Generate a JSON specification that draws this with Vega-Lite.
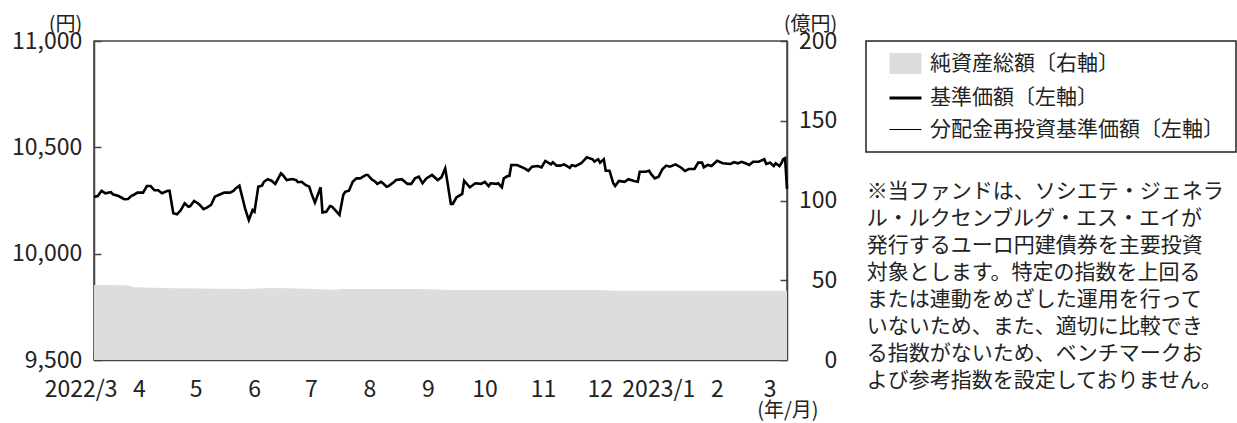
{
"$schema": "https://vega.github.io/schema/vega-lite/v6.json",
"width": 693, "height": 319,
"autosize": "none",
"padding": {"left": 94, "top": 41, "right": 450, "bottom": 63},
"background": "white",
"title": {
  "text": ["※当ファンドは、ソシエテ・ジェネラ", "　ル・ルクセンブルグ・エス・エイが", "　発行するユーロ円建債券を主要投資", "　対象とします。特定の指数を上回る", "　または連動をめざした運用を行って", "　いないため、また、適切に比較でき", "　る指数がないため、ベンチマークお", "　よび参考指数を設定しておりません。"],
  "anchor": "start", "frame": "group", "orient": "top", "offset": 0, "dx": 772.7, "dy": 376,
  "font": "Noto Sans CJK JP", "fontSize": 21, "fontWeight": "normal", "lineHeight": 27, "color": "#222222", "baseline": "top", "align": "left"
},
"datasets": {
  "nav": [
    {"date":"2022-03-23","total":47.0},{"date":"2022-04-10","total":46.8},{"date":"2022-04-13","total":45.6},{"date":"2022-05-04","total":45.0},{"date":"2022-06-12","total":44.5},{"date":"2022-06-23","total":45.1},{"date":"2022-07-05","total":45.0},{"date":"2022-07-28","total":44.1},{"date":"2022-08-02","total":44.5},{"date":"2022-09-12","total":44.5},{"date":"2022-09-28","total":43.9},{"date":"2022-12-16","total":43.9},{"date":"2022-12-23","total":43.4},{"date":"2023-03-25","total":43.4}
  ],
  "price": [
    {"date":"2022-03-23","price":10267,"reinvest":10267},{"date":"2022-03-25","price":10271,"reinvest":10271},{"date":"2022-03-27","price":10296,"reinvest":10296},{"date":"2022-03-29","price":10284,"reinvest":10284},{"date":"2022-04-01","price":10289,"reinvest":10289},{"date":"2022-04-02","price":10279,"reinvest":10279},{"date":"2022-04-05","price":10271,"reinvest":10271},{"date":"2022-04-08","price":10256,"reinvest":10256},{"date":"2022-04-10","price":10257,"reinvest":10257},{"date":"2022-04-12","price":10273,"reinvest":10273},{"date":"2022-04-13","price":10276,"reinvest":10276},{"date":"2022-04-15","price":10287,"reinvest":10287},{"date":"2022-04-18","price":10287,"reinvest":10287},{"date":"2022-04-20","price":10318,"reinvest":10318},{"date":"2022-04-22","price":10318,"reinvest":10318},{"date":"2022-04-24","price":10298,"reinvest":10298},{"date":"2022-04-26","price":10298,"reinvest":10298},{"date":"2022-04-28","price":10284,"reinvest":10284},
    {"date":"2022-05-01","price":10296,"reinvest":10296},{"date":"2022-05-02","price":10296,"reinvest":10296},{"date":"2022-05-04","price":10190,"reinvest":10190},{"date":"2022-05-06","price":10185,"reinvest":10185},{"date":"2022-05-08","price":10205,"reinvest":10205},{"date":"2022-05-10","price":10237,"reinvest":10237},{"date":"2022-05-12","price":10221,"reinvest":10221},{"date":"2022-05-13","price":10224,"reinvest":10224},{"date":"2022-05-15","price":10248,"reinvest":10248},{"date":"2022-05-17","price":10237,"reinvest":10237},{"date":"2022-05-18","price":10229,"reinvest":10229},{"date":"2022-05-20","price":10209,"reinvest":10209},{"date":"2022-05-22","price":10218,"reinvest":10218},{"date":"2022-05-24","price":10229,"reinvest":10229},{"date":"2022-05-26","price":10268,"reinvest":10268},{"date":"2022-05-28","price":10276,"reinvest":10276},{"date":"2022-05-31","price":10287,"reinvest":10287},
    {"date":"2022-06-03","price":10287,"reinvest":10287},{"date":"2022-06-05","price":10296,"reinvest":10296},{"date":"2022-06-06","price":10307,"reinvest":10307},{"date":"2022-06-08","price":10320,"reinvest":10320},{"date":"2022-06-09","price":10284,"reinvest":10284},{"date":"2022-06-11","price":10213,"reinvest":10213},{"date":"2022-06-13","price":10158,"reinvest":10158},{"date":"2022-06-15","price":10205,"reinvest":10205},{"date":"2022-06-16","price":10197,"reinvest":10197},{"date":"2022-06-18","price":10315,"reinvest":10315},{"date":"2022-06-20","price":10320,"reinvest":10320},{"date":"2022-06-21","price":10338,"reinvest":10338},{"date":"2022-06-23","price":10350,"reinvest":10350},{"date":"2022-06-25","price":10343,"reinvest":10343},{"date":"2022-06-27","price":10328,"reinvest":10328},{"date":"2022-06-30","price":10378,"reinvest":10378},
    {"date":"2022-07-01","price":10370,"reinvest":10370},{"date":"2022-07-03","price":10346,"reinvest":10346},{"date":"2022-07-06","price":10351,"reinvest":10351},{"date":"2022-07-08","price":10346,"reinvest":10346},{"date":"2022-07-09","price":10336,"reinvest":10336},{"date":"2022-07-11","price":10338,"reinvest":10338},{"date":"2022-07-13","price":10323,"reinvest":10323},{"date":"2022-07-15","price":10315,"reinvest":10315},{"date":"2022-07-16","price":10287,"reinvest":10287},{"date":"2022-07-18","price":10240,"reinvest":10240},{"date":"2022-07-21","price":10312,"reinvest":10312},{"date":"2022-07-22","price":10194,"reinvest":10194},{"date":"2022-07-24","price":10197,"reinvest":10197},{"date":"2022-07-26","price":10224,"reinvest":10224},{"date":"2022-07-27","price":10221,"reinvest":10221},{"date":"2022-07-29","price":10202,"reinvest":10202},{"date":"2022-07-31","price":10182,"reinvest":10182},
    {"date":"2022-08-02","price":10276,"reinvest":10276},{"date":"2022-08-03","price":10291,"reinvest":10291},{"date":"2022-08-05","price":10296,"reinvest":10296},{"date":"2022-08-07","price":10338,"reinvest":10338},{"date":"2022-08-09","price":10354,"reinvest":10354},{"date":"2022-08-11","price":10354,"reinvest":10354},{"date":"2022-08-14","price":10370,"reinvest":10370},{"date":"2022-08-15","price":10370,"reinvest":10370},{"date":"2022-08-17","price":10350,"reinvest":10350},{"date":"2022-08-19","price":10338,"reinvest":10338},{"date":"2022-08-20","price":10328,"reinvest":10328},{"date":"2022-08-22","price":10338,"reinvest":10338},{"date":"2022-08-23","price":10331,"reinvest":10331},{"date":"2022-08-25","price":10315,"reinvest":10315},{"date":"2022-08-26","price":10318,"reinvest":10318},{"date":"2022-08-29","price":10338,"reinvest":10338},{"date":"2022-08-30","price":10346,"reinvest":10346},
    {"date":"2022-09-02","price":10350,"reinvest":10350},{"date":"2022-09-05","price":10328,"reinvest":10328},{"date":"2022-09-07","price":10328,"reinvest":10328},{"date":"2022-09-09","price":10354,"reinvest":10354},{"date":"2022-09-11","price":10362,"reinvest":10362},{"date":"2022-09-13","price":10331,"reinvest":10331},{"date":"2022-09-15","price":10354,"reinvest":10354},{"date":"2022-09-18","price":10370,"reinvest":10370},{"date":"2022-09-21","price":10346,"reinvest":10346},{"date":"2022-09-23","price":10359,"reinvest":10359},{"date":"2022-09-25","price":10401,"reinvest":10401},{"date":"2022-09-28","price":10234,"reinvest":10234},{"date":"2022-09-29","price":10234,"reinvest":10234},
    {"date":"2022-10-01","price":10265,"reinvest":10265},{"date":"2022-10-04","price":10281,"reinvest":10281},{"date":"2022-10-05","price":10343,"reinvest":10343},{"date":"2022-10-08","price":10312,"reinvest":10312},{"date":"2022-10-11","price":10331,"reinvest":10331},{"date":"2022-10-14","price":10328,"reinvest":10328},{"date":"2022-10-16","price":10338,"reinvest":10338},{"date":"2022-10-18","price":10318,"reinvest":10318},{"date":"2022-10-19","price":10331,"reinvest":10331},{"date":"2022-10-22","price":10328,"reinvest":10328},{"date":"2022-10-23","price":10331,"reinvest":10331},{"date":"2022-10-25","price":10312,"reinvest":10312},{"date":"2022-10-26","price":10354,"reinvest":10354},{"date":"2022-10-28","price":10365,"reinvest":10365},{"date":"2022-10-29","price":10365,"reinvest":10365},{"date":"2022-10-30","price":10417,"reinvest":10417},
    {"date":"2022-11-02","price":10417,"reinvest":10417},{"date":"2022-11-06","price":10401,"reinvest":10401},{"date":"2022-11-08","price":10390,"reinvest":10390},{"date":"2022-11-10","price":10409,"reinvest":10409},{"date":"2022-11-13","price":10412,"reinvest":10412},{"date":"2022-11-15","price":10406,"reinvest":10406},{"date":"2022-11-17","price":10436,"reinvest":10436},{"date":"2022-11-20","price":10420,"reinvest":10420},{"date":"2022-11-21","price":10430,"reinvest":10430},{"date":"2022-11-23","price":10414,"reinvest":10414},{"date":"2022-11-25","price":10414,"reinvest":10414},{"date":"2022-11-27","price":10420,"reinvest":10420},{"date":"2022-11-30","price":10404,"reinvest":10404},
    {"date":"2022-12-01","price":10416,"reinvest":10416},{"date":"2022-12-03","price":10412,"reinvest":10412},{"date":"2022-12-06","price":10425,"reinvest":10425},{"date":"2022-12-09","price":10453,"reinvest":10453},{"date":"2022-12-12","price":10444,"reinvest":10444},{"date":"2022-12-13","price":10433,"reinvest":10433},{"date":"2022-12-15","price":10444,"reinvest":10444},{"date":"2022-12-16","price":10428,"reinvest":10428},{"date":"2022-12-18","price":10444,"reinvest":10444},{"date":"2022-12-19","price":10390,"reinvest":10390},{"date":"2022-12-21","price":10390,"reinvest":10390},{"date":"2022-12-23","price":10331,"reinvest":10331},{"date":"2022-12-24","price":10318,"reinvest":10318},{"date":"2022-12-26","price":10342,"reinvest":10342},{"date":"2022-12-29","price":10338,"reinvest":10338},{"date":"2022-12-31","price":10350,"reinvest":10350},
    {"date":"2023-01-03","price":10342,"reinvest":10342},{"date":"2023-01-05","price":10338,"reinvest":10338},{"date":"2023-01-06","price":10385,"reinvest":10385},{"date":"2023-01-09","price":10385,"reinvest":10385},{"date":"2023-01-11","price":10390,"reinvest":10390},{"date":"2023-01-12","price":10375,"reinvest":10375},{"date":"2023-01-14","price":10354,"reinvest":10354},{"date":"2023-01-16","price":10362,"reinvest":10362},{"date":"2023-01-18","price":10397,"reinvest":10397},{"date":"2023-01-20","price":10414,"reinvest":10414},{"date":"2023-01-22","price":10409,"reinvest":10409},{"date":"2023-01-25","price":10420,"reinvest":10420},{"date":"2023-01-28","price":10404,"reinvest":10404},{"date":"2023-01-30","price":10389,"reinvest":10389},
    {"date":"2023-02-01","price":10398,"reinvest":10398},{"date":"2023-02-04","price":10398,"reinvest":10398},{"date":"2023-02-06","price":10428,"reinvest":10428},{"date":"2023-02-08","price":10428,"reinvest":10428},{"date":"2023-02-09","price":10406,"reinvest":10406},{"date":"2023-02-11","price":10417,"reinvest":10417},{"date":"2023-02-13","price":10412,"reinvest":10412},{"date":"2023-02-16","price":10437,"reinvest":10437},{"date":"2023-02-19","price":10425,"reinvest":10425},{"date":"2023-02-23","price":10422,"reinvest":10422},{"date":"2023-02-25","price":10430,"reinvest":10430},{"date":"2023-02-27","price":10425,"reinvest":10425},
    {"date":"2023-03-01","price":10432,"reinvest":10432},{"date":"2023-03-03","price":10425,"reinvest":10425},{"date":"2023-03-05","price":10417,"reinvest":10417},{"date":"2023-03-07","price":10432,"reinvest":10432},{"date":"2023-03-10","price":10432,"reinvest":10432},{"date":"2023-03-13","price":10444,"reinvest":10444},{"date":"2023-03-14","price":10422,"reinvest":10422},{"date":"2023-03-16","price":10428,"reinvest":10428},{"date":"2023-03-18","price":10412,"reinvest":10412},{"date":"2023-03-19","price":10425,"reinvest":10425},{"date":"2023-03-21","price":10412,"reinvest":10412},{"date":"2023-03-22","price":10425,"reinvest":10425},{"date":"2023-03-23","price":10444,"reinvest":10444},{"date":"2023-03-24","price":10449,"reinvest":10449},{"date":"2023-03-25","price":10305,"reinvest":10305}
  ]
},
"encoding": {
  "x": {
    "field": "date", "type": "temporal",
    "scale": {"type": "utc", "domain": [{"year": 2022, "month": 3, "date": 23, "utc": true}, {"year": 2023, "month": 3, "date": 25, "utc": true}]},
    "axis": {
      "values": [
        {"year": 2022, "month": 3, "date": 23, "utc": true},
        {"year": 2022, "month": 4, "date": 1, "utc": true},
        {"year": 2022, "month": 5, "date": 1, "utc": true},
        {"year": 2022, "month": 6, "date": 1, "utc": true},
        {"year": 2022, "month": 7, "date": 1, "utc": true},
        {"year": 2022, "month": 8, "date": 1, "utc": true},
        {"year": 2022, "month": 9, "date": 1, "utc": true},
        {"year": 2022, "month": 10, "date": 1, "utc": true},
        {"year": 2022, "month": 11, "date": 1, "utc": true},
        {"year": 2022, "month": 12, "date": 1, "utc": true},
        {"year": 2023, "month": 1, "date": 1, "utc": true},
        {"year": 2023, "month": 2, "date": 1, "utc": true},
        {"year": 2023, "month": 3, "date": 1, "utc": true}
      ],
      "labelExpr": "(utcmonth(datum.value) == 0 || datum.value < utc(2022,3,1)) ? utcFormat(datum.value, '%Y/%-m') : utcFormat(datum.value, '%-m')",
      "labelAlign": {"condition": {"test": "datum.value < utc(2022,3,1)", "value": "right"}, "value": "center"},
      "labelOffset": {"condition": {"test": "datum.value < utc(2022,3,1)", "value": 23}, "value": 28},
      "labelFlush": false, "labelOverlap": false, "labelBound": false,
      "labelPadding": 25.5,
      "title": "(年/月)", "titleAlign": "right", "titleBaseline": "middle", "titleX": 724, "titleY": 50
    }
  }
},
"layer": [
  {
    "data": {"name": "nav"},
    "mark": {"type": "area", "opacity": 1, "interpolate": "linear"},
    "encoding": {
      "y": {"field": "total", "type": "quantitative", "scale": {"domain": [0, 200], "nice": false, "zero": true},
        "axis": {"orient": "right", "values": [0, 50, 100, 150, 200], "labelAlign": "right", "labelPadding": 56.7,
          "title": "(億円)", "titleAngle": 0, "titleAlign": "right", "titleBaseline": "middle", "titleX": 49.7, "titleY": -16.3}},
      "color": {"datum": "純資産総額〔右軸〕", "type": "nominal",
        "scale": {"domain": ["純資産総額〔右軸〕", "基準価額〔左軸〕", "分配金再投資基準価額〔左軸〕"], "range": ["#dcdddd", "#000000", "#000000"]},
        "legend": {
          "orient": "none", "legendX": 772, "legendY": 0, "title": null,
          "strokeColor": "#222222", "padding": 12, "symbolOffset": 17, "labelOffset": 14, "rowPadding": 9.5,
          "labelFont": "Noto Sans CJK JP", "labelFontSize": 21, "labelColor": "#222222", "labelLimit": 500,
          "symbolSize": 1024,
          "symbolType": {"expr": "datum.value === '純資産総額〔右軸〕' ? 'M-1,-0.66H1V0.66H-1Z' : 'stroke'"},
          "symbolStrokeColor": {"expr": "datum.value === '純資産総額〔右軸〕' ? 'transparent' : '#000000'"},
          "symbolStrokeWidth": {"expr": "datum.value === '基準価額〔左軸〕' ? 3 : 1.2"},
          "labelExpr": "datum.label + '\u00a0\u00a0\u00a0'"
        }
      }
    }
  },
  {
    "data": {"name": "price"},
    "layer": [
      {
        "mark": {"type": "line", "strokeWidth": 1.2, "color": "#000000"},
        "encoding": {
          "y": {"field": "reinvest", "type": "quantitative", "scale": {"domain": [9500, 11000], "nice": false, "zero": false},
            "axis": {"orient": "left", "values": [9500, 10000, 10500, 11000], "labelExpr": "format(datum.value, ',')", "labelPadding": 19.3,
              "title": "(円)", "titleAngle": 0, "titleAlign": "right", "titleBaseline": "middle", "titleX": -12.3, "titleY": -16.3}}
        }
      },
      {
        "mark": {"type": "line", "strokeWidth": 2.6, "color": "#000000"},
        "encoding": {
          "y": {"field": "price", "type": "quantitative", "scale": {"domain": [9500, 11000], "nice": false, "zero": false},
            "axis": {"orient": "left", "values": [9500, 10000, 10500, 11000], "labelExpr": "format(datum.value, ',')", "labelPadding": 19.3,
              "title": "(円)", "titleAngle": 0, "titleAlign": "right", "titleBaseline": "middle", "titleX": -12.3, "titleY": -16.3}}
        }
      }
    ]
  }
],
"resolve": {"scale": {"y": "independent"}},
"config": {
  "view": {"stroke": "#444444", "strokeWidth": 1.5},
  "font": "Noto Sans CJK JP",
  "axis": {
    "grid": false, "domainColor": "#444444", "domainWidth": 1.5, "tickColor": "#444444", "tickWidth": 1.5, "tickSize": -7,
    "labelFont": "Noto Sans CJK JP", "labelFontSize": 23, "labelColor": "#222222",
    "titleFont": "Noto Sans CJK JP", "titleFontSize": 20, "titleFontWeight": "normal", "titleColor": "#222222"
  },
  "legend": {"strokeWidth": 1.5}
}
}
